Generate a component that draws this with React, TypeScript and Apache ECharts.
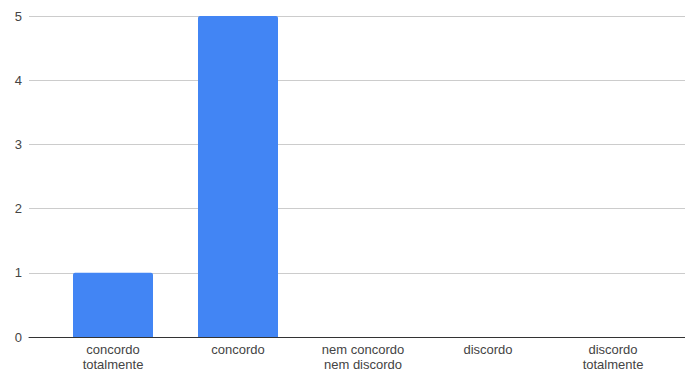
import React, { useEffect, useRef } from "react";
import * as echarts from "echarts";

const categories = [
  "concordo\ntotalmente",
  "concordo",
  "nem concordo\nnem discordo",
  "discordo",
  "discordo\ntotalmente",
];
const counts = [1, 5, 0, 0, 0];
const yTicks = { min: 0, max: 5, interval: 1 };

export default function App() {
  const ref = useRef<HTMLDivElement>(null);

  useEffect(() => {
    document.body.style.margin = "0";
    if (!ref.current) return;
    const chart = echarts.init(ref.current, undefined, { renderer: "svg" });
    const font = "'Liberation Sans', Arial, sans-serif";
    chart.setOption({
      animation: false,
      backgroundColor: "#ffffff",
      grid: [
        // full-width grid carrying the value axis, gridlines and baseline
        { left: 29, right: 0, top: 16, bottom: 35 },
        // inner grid holding the bars and category labels
        { left: 50.5, width: 625, top: 16, bottom: 35 },
      ],
      xAxis: [
        {
          gridIndex: 0,
          type: "value",
          min: 0,
          max: 1,
          axisLine: { show: true, onZero: false, lineStyle: { color: "#333333", width: 1 } },
          axisTick: { show: false },
          axisLabel: { show: false },
          splitLine: { show: false },
        },
        {
          gridIndex: 1,
          type: "category",
          data: categories,
          axisLine: { show: false },
          axisTick: { show: false },
          axisLabel: {
            color: "#444444",
            fontFamily: font,
            fontSize: 13,
            lineHeight: 15,
            margin: 5,
            interval: 0,
          },
        },
      ],
      yAxis: [
        {
          gridIndex: 0,
          type: "value",
          ...yTicks,
          axisLine: { show: false },
          axisTick: { show: false },
          axisLabel: { color: "#444444", fontFamily: font, fontSize: 13, margin: 7 },
          splitLine: { lineStyle: { color: "#cccccc", width: 1 } },
        },
        {
          gridIndex: 1,
          type: "value",
          ...yTicks,
          show: false,
          splitLine: { show: false },
        },
      ],
      series: [
        {
          type: "bar",
          xAxisIndex: 1,
          yAxisIndex: 1,
          data: counts,
          barCategoryGap: "36%",
          itemStyle: { color: "#4285f4", borderRadius: [2, 2, 0, 0] },
        },
      ],
    });
    return () => chart.dispose();
  }, []);

  return <div ref={ref} style={{ width: 685, height: 372 }} />;
}
